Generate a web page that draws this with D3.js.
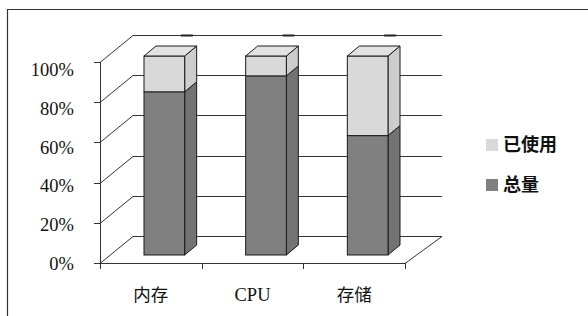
<!DOCTYPE html>
<html><head><meta charset="utf-8">
<script src="https://cdn.jsdelivr.net/npm/d3@7/dist/d3.min.js"></script>
<style>html,body{margin:0;padding:0;background:#fff;}svg{display:block;}</style>
</head><body>
<script>
const categories = ["内存", "CPU", "存储"];
const seriesNames = ["总量", "已使用"];
const totalValues = [82, 90, 60];
const usedValues = [18, 10, 40];
const yTicks = [0, 20, 40, 60, 80, 100];
const yTickLabels = ["0%", "20%", "40%", "60%", "80%", "100%"];

const W = 588, H = 316;
const svg = d3.select("body").append("svg").attr("width", W).attr("height", H);

// frame
svg.append("path").attr("d", "M7.5,316 L7.5,9.5 L588,9.5").attr("fill", "none").attr("stroke", "#333").attr("stroke-width", 1.2);

const x = d3.scaleBand().domain(categories).range([100, 405]).paddingInner(0.6).paddingOuter(0.3);
const xEdge = d3.scaleLinear().domain([0, categories.length]).range([100, 405]);
const y = d3.scaleLinear().domain([0, 100]).range([263, 62]);
const yLab = d3.scaleLinear().domain([0, 100]).range([263.5, 69.5]);
const yBar = d3.scaleLinear().domain([0, 100]).range([255, 56]);
const wallDX = 33, wallDY = -27;
const barDX = 13.5, barDDX = 12, barDDY = -10;

const line = "#333";
const g = svg.append("g");

// back wall gridlines and side wall diagonals
yTicks.forEach(t => {
  const yy = Math.round(y(t)) + 0.5;
  g.append("line").attr("x1", 100).attr("y1", yy).attr("x2", 100 + wallDX).attr("y2", yy + wallDY).attr("stroke", line);
  g.append("line").attr("x1", 100 + wallDX).attr("y1", yy + wallDY).attr("x2", 405 + wallDX + 4).attr("y2", yy + wallDY).attr("stroke", line);
});
// floor right edge
g.append("line").attr("x1", 405).attr("y1", 263.5).attr("x2", 405 + wallDX + 4).attr("y2", 263.5 + wallDY).attr("stroke", line);

// small back marks
categories.forEach(c => {
  const cx = x(c) + x.bandwidth() / 2;
  const yy = Math.round(y(100)) + 0.5 + wallDY;
  g.append("line").attr("x1", cx + 30).attr("x2", cx + 42).attr("y1", yy).attr("y2", yy).attr("stroke", "#222").attr("stroke-width", 2);
});

// axes
g.append("line").attr("x1", 100.5).attr("x2", 100.5).attr("y1", y(100)).attr("y2", 269).attr("stroke", line);
g.append("line").attr("x1", 100).attr("x2", 405).attr("y1", 263.5).attr("y2", 263.5).attr("stroke", line);
yTicks.forEach((t, i) => {
  const yy = Math.round(y(t)) + 0.5;
  g.append("line").attr("x1", 94).attr("x2", 100).attr("y1", yy).attr("y2", yy).attr("stroke", line);
  g.append("text").attr("x", 74).attr("y", yLab(t)).attr("dy", "0.35em").attr("text-anchor", "end")
    .attr("font-family", "'Liberation Serif', serif").attr("font-size", 18.5).attr("fill", "#111").text(yTickLabels[i]);
});
d3.range(categories.length + 1).forEach(i => {
  const xx = Math.round(xEdge(i)) + 0.5;
  g.append("line").attr("x1", xx).attr("x2", xx).attr("y1", 263).attr("y2", 269).attr("stroke", line);
});
categories.forEach(c => {
  const isLatin = /^[A-Za-z]+$/.test(c);
  g.append("text").attr("x", x(c) + x.bandwidth() / 2 + 0).attr("y", 295).attr("dy", "0.35em").attr("text-anchor", "middle")
    .attr("font-family", isLatin ? "'Liberation Serif', serif" : "'Noto Sans CJK SC', sans-serif")
    .attr("font-size", isLatin ? 18.5 : 17.5).attr("fill", "#111").text(c);
});

// bars
const colors = {
  front: ["#808080", "#d9d9d9"],
  side: ["#737373", "#cdcdcd"],
  top: ["#8c8c8c", "#e2e2e2"]
};
const stroke = "#1a1a1a";
categories.forEach((c, i) => {
  const segs = [[0, totalValues[i]], [totalValues[i], totalValues[i] + usedValues[i]]];
  const x0 = x(c) + barDX, x1 = x0 + x.bandwidth();
  segs.forEach((s, k) => {
    const yb = yBar(s[0]), yt = yBar(s[1]);
    g.append("polygon").attr("points", [[x1, yt], [x1 + barDDX, yt + barDDY], [x1 + barDDX, yb + barDDY], [x1, yb]].join(" "))
      .attr("fill", colors.side[k]).attr("stroke", stroke).attr("stroke-linejoin", "round");
    g.append("rect").attr("x", x0).attr("y", yt).attr("width", x1 - x0).attr("height", yb - yt)
      .attr("fill", colors.front[k]).attr("stroke", stroke);
    if (k === segs.length - 1) {
      g.append("polygon").attr("points", [[x0, yt], [x1, yt], [x1 + barDDX, yt + barDDY], [x0 + barDDX, yt + barDDY]].join(" "))
        .attr("fill", colors.top[k]).attr("stroke", stroke).attr("stroke-linejoin", "round");
    }
  });
});

// legend
const legendItems = [
  { name: seriesNames[1], color: colors.front[1], y: 145 },
  { name: seriesNames[0], color: colors.front[0], y: 185 }
];
legendItems.forEach(d => {
  g.append("rect").attr("x", 486).attr("y", d.y - 6).attr("width", 12).attr("height", 12).attr("fill", d.color);
  g.append("text").attr("x", 503).attr("y", d.y).attr("dy", "0.35em")
    .attr("font-family", "'Noto Sans CJK SC', sans-serif").attr("font-weight", "bold").attr("font-size", 18)
    .attr("fill", "#111").text(d.name);
});
</script>
</body></html>
